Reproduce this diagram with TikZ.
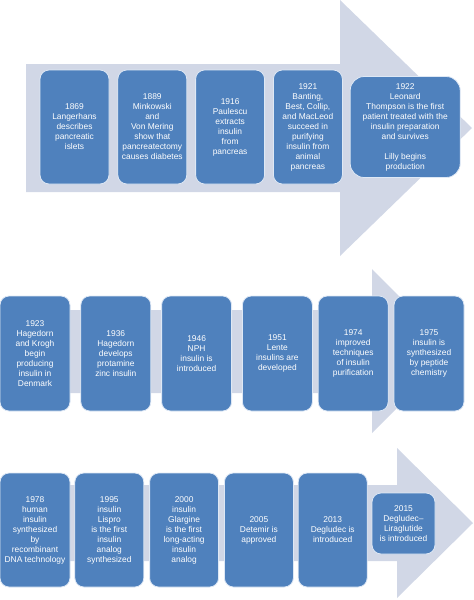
\documentclass[tikz,border=0pt]{standalone}
\usepackage{fontspec}
\setmainfont{Liberation Sans}
\usetikzlibrary{positioning}
\definecolor{boxBlue}{RGB}{79, 129, 189}
\definecolor{boxEdge}{RGB}{222, 232, 245}
\definecolor{arrowGray}{RGB}{209, 215, 230}

\begin{document}
\begin{tikzpicture}[
    x=1pt, y=-1pt,
    node distance=8pt,
    % Node styles
    event/.style={
        rectangle,
        rounded corners=9pt,
        minimum width=69pt,
        minimum height=114pt,
        inner sep=1pt,
        align=center,
        font=\fontsize{8.4}{10}\selectfont,
        text=white,
        fill=boxBlue,
        draw=boxEdge,
        line width=0.8pt
    },
    timeline/.style={
        fill=arrowGray
    }
]
\useasboundingbox (0,0) rectangle (474,600);

% Background arrows
\fill[timeline] (26,64) -- (340,64) -- (340,0) -- (472,128) -- (340,256) -- (340,192) -- (26,192) -- cycle;
\fill[timeline] (-5,310) -- (372,310) -- (372,269) -- (454,351) -- (372,433) -- (372,393) -- (-5,393) -- cycle;
\fill[timeline] (-5,485) -- (397,485) -- (397,448) -- (473,523) -- (397,598) -- (397,561) -- (-5,561) -- cycle;

% First row
\node[event] (a1) at (74.5,127) {1869\\Langerhans\\describes\\pancreatic\\islets};
\node[event, right=of a1] (a2) {1889\\Minkowski\\and\\Von Mering\\show that\\pancreatectomy\\causes diabetes};
\node[event, right=of a2] (a3) {1916\\Paulescu\\extracts\\insulin\\from\\pancreas};
\node[event, right=of a3] (a4) {1921\\Banting,\\Best, Collip,\\and MacLeod\\succeed in\\purifying\\insulin from\\animal\\pancreas};
\node[event, right=7pt of a4, minimum width=110pt, minimum height=101pt, rounded corners=14pt] (a5)
    {1922\\Leonard\\Thompson is the first\\patient treated with the\\insulin preparation\\and survives\\[10pt]Lilly begins\\production};

% Second row
\node[event, minimum width=70pt, minimum height=115pt] (b1) at (35,353.5) {1923\\Hagedorn\\and Krogh\\begin\\producing\\insulin in\\Denmark};
\node[event, minimum width=70pt, minimum height=115pt, right=10pt of b1] (b2) {1936\\Hagedorn\\develops\\protamine\\zinc insulin};
\node[event, minimum width=70pt, minimum height=115pt, right=10pt of b2] (b3) {1946\\NPH\\insulin is\\introduced};
\node[event, minimum width=70pt, minimum height=115pt, right=10pt of b3] (b4) {1951\\Lente\\insulins are\\developed};
\node[event, minimum width=70pt, minimum height=115pt, right=5pt of b4] (b5) {1974\\improved\\techniques\\of insulin\\purification};
\node[event, minimum width=70pt, minimum height=115pt, right=5pt of b5] (b6) {1975\\insulin is\\synthesized\\by peptide\\chemistry};

% Third row
\node[event, minimum width=70pt] (c1) at (35,530) {1978\\human\\insulin\\synthesized\\by\\recombinant\\DNA technology};
\node[event, right=4pt of c1] (c2) {1995\\insulin\\Lispro\\is the first\\insulin\\analog\\synthesized};
\node[event, right=5pt of c2] (c3) {2000\\insulin\\Glargine\\is the first\\long-acting\\insulin\\analog};
\node[event, right=5pt of c3] (c4) {2005\\Detemir is\\approved};
\node[event, right=4pt of c4] (c5) {2013\\Degludec is\\introduced};
\node[event, right=4pt of c5, yshift=6.5pt, minimum width=63pt, minimum height=61pt] (c6) {2015\\Degludec--\\Liraglutide\\is introduced};

\end{tikzpicture}
\end{document}
